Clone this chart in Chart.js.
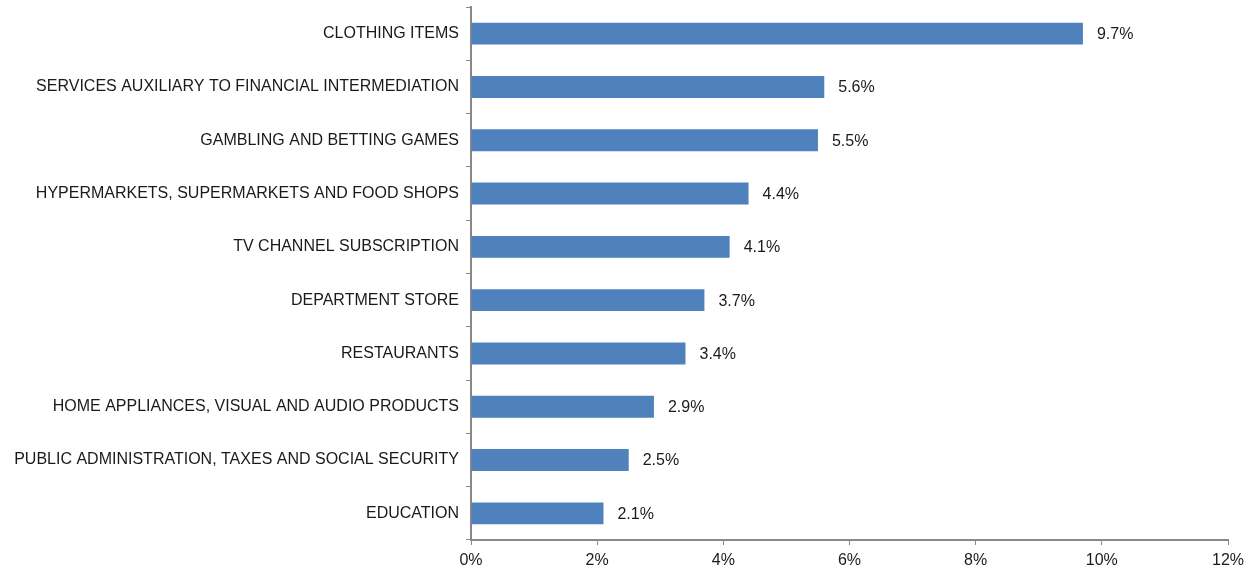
<!DOCTYPE html>
<html>
<head>
<meta charset="utf-8">
<script src="https://cdn.jsdelivr.net/npm/chart.js@4/dist/chart.umd.min.js"></script>
<style>
  html, body { margin: 0; padding: 0; background: #fff; }
  #wrap { width: 1260px; height: 569px; }
</style>
</head>
<body>
<div id="wrap"><canvas id="myChart"></canvas></div>
<script>
// spending categories and their growth share (%)
const categories = [
  'CLOTHING ITEMS',
  'SERVICES AUXILIARY TO FINANCIAL INTERMEDIATION',
  'GAMBLING AND BETTING GAMES',
  'HYPERMARKETS, SUPERMARKETS AND FOOD SHOPS',
  'TV CHANNEL SUBSCRIPTION',
  'DEPARTMENT STORE',
  'RESTAURANTS',
  'HOME APPLIANCES, VISUAL AND AUDIO PRODUCTS',
  'PUBLIC ADMINISTRATION, TAXES AND SOCIAL SECURITY',
  'EDUCATION'
];
const values = [9.7, 5.6, 5.5, 4.4, 4.1, 3.7, 3.4, 2.9, 2.5, 2.1];

const xMin = 0;
const xMax = 12;
const xStep = 2;

Chart.defaults.font.family = 'Liberation Sans, Arial, sans-serif';
Chart.defaults.font.size = 16;
Chart.defaults.color = '#1a1a1a';

// value labels right of each bar
const barLabels = {
  id: 'barLabels',
  afterDatasetsDraw(chart) {
    const ctx = chart.ctx;
    const meta = chart.getDatasetMeta(0);
    ctx.save();
    ctx.font = '16px Liberation Sans, Arial, sans-serif';
    ctx.fillStyle = '#1a1a1a';
    ctx.textAlign = 'left';
    ctx.textBaseline = 'middle';
    meta.data.forEach((bar, i) => {
      ctx.fillText(values[i].toFixed(1) + '%', bar.x + 14, bar.y + 1);
    });
    ctx.restore();
  }
};

const ctx = document.getElementById('myChart');
new Chart(ctx, {
  type: 'bar',
  data: {
    labels: categories,
    datasets: [{
      data: values,
      backgroundColor: '#4f81bd',
      borderWidth: 0,
      barPercentage: 0.82,
      categoryPercentage: 0.5
    }]
  },
  options: {
    indexAxis: 'y',
    responsive: true,
    maintainAspectRatio: false,
    animation: false,
    layout: { padding: { left: 0, right: 32, top: 7, bottom: 0 } },
    plugins: {
      legend: { display: false },
      tooltip: { enabled: false }
    },
    scales: {
      x: {
        min: xMin,
        max: xMax,
        ticks: {
          stepSize: xStep,
          padding: 6,
          callback: v => v + '%'
        },
        grid: {
          drawOnChartArea: false,
          tickLength: 5,
          color: '#888'
        },
        border: { color: '#888', width: 2 },
        afterFit: s => { s.height = 29; }
      },
      y: {
        ticks: { padding: 7 },
        grid: {
          drawOnChartArea: false,
          tickLength: 5,
          color: '#888'
        },
        border: { color: '#888', width: 2 },
        afterFit: s => {
          s.width = 471;
          s.paddingTop = 0;
          s.paddingBottom = 0;
        }
      }
    }
  },
  plugins: [barLabels]
});
</script>
</body>
</html>
